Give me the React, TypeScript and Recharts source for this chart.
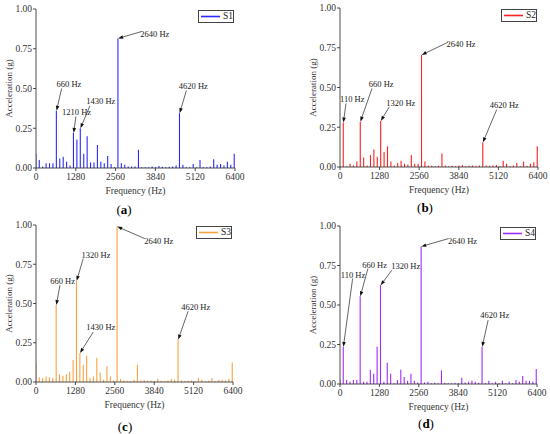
import React from "react";
import {
  BarChart,
  Bar,
  XAxis,
  YAxis,
  Legend,
  ReferenceLine,
  ReferenceDot,
} from "recharts";

// harmonic lines every 110 Hz
const FREQS = [
  0, 110, 220, 330, 440, 550, 660, 770, 880, 990, 1100, 1210, 1320, 1430, 1540,
  1650, 1760, 1870, 1980, 2090, 2200, 2310, 2420, 2530, 2640, 2750, 2860, 2970,
  3080, 3190, 3300, 3410, 3520, 3630, 3740, 3850, 3960, 4070, 4180, 4290, 4400,
  4510, 4620, 4730, 4840, 4950, 5060, 5170, 5280, 5390, 5500, 5610, 5720, 5830,
  5940, 6050, 6160, 6270, 6380,
];

const S1 = [
  0.09, 0.05, 0.01, 0.03, 0.03, 0.03, 0.36, 0.06, 0.07, 0.04,
  0.015, 0.22, 0.18, 0.25, 0.09, 0.2, 0.035, 0.035, 0.145, 0.04,
  0.03, 0.075, 0.025, 0.005, 0.815, 0.03, 0.02, 0.01, 0.01, 0.01,
  0.115, 0.005, 0.005, 0.005, 0.01, 0.005, 0.012, 0.008, 0.005, 0.008,
  0.01, 0.015, 0.345, 0.02, 0.005, 0.005, 0.025, 0.005, 0.05, 0.005,
  0.005, 0.01, 0.055, 0.02, 0.025, 0.015, 0.04, 0.02, 0.09,
];

const S2 = [
  0.005, 0.28, 0.005, 0.02, 0.01, 0.035, 0.285, 0.06, 0.01, 0.075,
  0.11, 0.065, 0.29, 0.095, 0.13, 0.035, 0.01, 0.025, 0.04, 0.02,
  0.015, 0.075, 0.02, 0.02, 0.705, 0.035, 0.01, 0.008, 0.005, 0.008,
  0.085, 0.01, 0.005, 0.008, 0.005, 0.01, 0.012, 0.005, 0.008, 0.01,
  0.005, 0.01, 0.155, 0.01, 0.008, 0.01, 0.012, 0.005, 0.04, 0.02,
  0.005, 0.01, 0.025, 0.005, 0.035, 0.008, 0.02, 0.03, 0.13,
];

const S3 = [
  0.12, 0.03, 0.025, 0.035, 0.03, 0.025, 0.49, 0.05, 0.04, 0.05,
  0.065, 0.14, 0.645, 0.185, 0.11, 0.165, 0.025, 0.035, 0.155, 0.06,
  0.015, 0.1, 0.035, 0.01, 0.99, 0.02, 0.01, 0.008, 0.005, 0.015,
  0.11, 0.01, 0.012, 0.008, 0.01, 0.005, 0.02, 0.008, 0.005, 0.01,
  0.02, 0.015, 0.27, 0.01, 0.005, 0.008, 0.01, 0.005, 0.025, 0.015,
  0.005, 0.008, 0.025, 0.005, 0.012, 0.015, 0.01, 0.02, 0.125,
];

const S4 = [
  0.03, 0.235, 0.025, 0.015, 0.025, 0.025, 0.555, 0.015, 0.015, 0.09,
  0.065, 0.235, 0.625, 0.015, 0.135, 0.065, 0.005, 0.025, 0.09, 0.045,
  0.02, 0.065, 0.02, 0.01, 0.87, 0.01, 0.015, 0.005, 0.008, 0.005,
  0.085, 0.008, 0.005, 0.005, 0.008, 0.005, 0.04, 0.01, 0.015, 0.02,
  0.015, 0.008, 0.235, 0.005, 0.02, 0.005, 0.015, 0.005, 0.02, 0.005,
  0.015, 0.005, 0.025, 0.015, 0.05, 0.02, 0.02, 0.015, 0.095,
];

const X_TICKS = [0, 1280, 2560, 3840, 5120, 6400];
const X_MINOR = [0, 640, 1280, 1920, 2560, 3200, 3840, 4480, 5120, 5760, 6400];
const Y_TICKS = [0, 0.25, 0.5, 0.75, 1];
const Y_MINOR = [0, 0.125, 0.25, 0.375, 0.5, 0.625, 0.75, 0.875, 1];

// labelled peaks: frequency, where the text sits, where the arrow starts
const PEAKS_A = [660, 1210, 1430, 2640, 4620];
const PEAKS_B = [110, 660, 1320, 2640, 4620];
const PEAKS_C = [660, 1320, 1430, 2640, 4620];
const PEAKS_D = [110, 660, 1320, 2640, 4620];

const TEXT_AT_A = [[1060, 0.53], [1305, 0.35], [2087, 0.42], [3820, 0.84], [5060, 0.517]];
const FROM_A = [[824, 0.5], [1284, 0.324], [1733, 0.39], [3392, 0.858], [4836, 0.487]];
const TEXT_AT_B = [[398, 0.426], [1334, 0.519], [1968, 0.405], [3915, 0.771], [5313, 0.389]];
const FROM_B = [[194, 0.4], [1033, 0.494], [1592, 0.378], [3485, 0.784], [5066, 0.361]];
const TEXT_AT_C = [[865, 0.643], [1946, 0.811], [2108, 0.35], [3989, 0.896], [5189, 0.478]];
const FROM_C = [[778, 0.616], [1535, 0.786], [1859, 0.318], [3535, 0.913], [4940, 0.45]];
const TEXT_AT_D = [[421, 0.693], [1122, 0.756], [2136, 0.747], [3981, 0.903], [5028, 0.436]];
const FROM_D = [[410, 0.667], [906, 0.73], [1683, 0.72], [3517, 0.92], [4812, 0.404]];

const FONT = "'Liberation Serif', 'Times New Roman', serif";
const AXIS = "#222";

const CSS = `
.spec text, .spec span, .spec div { font-family: ${FONT} !important; }
`;

function ArrowShape(props: any) {
  const { x1, y1, x2, y2 } = props;
  if (![x1, y1, x2, y2].every((n) => typeof n === "number")) return null;
  const dx = x2 - x1;
  const dy = y2 - y1;
  const len = Math.sqrt(dx * dx + dy * dy) || 1;
  const ux = dx / len;
  const uy = dy / len;
  const hl = 5;
  const hw = 1.8;
  const bx = x2 - ux * hl;
  const by = y2 - uy * hl;
  return (
    <g>
      <line x1={x1} y1={y1} x2={bx} y2={by} stroke="#222" strokeWidth={0.7} />
      <polygon
        points={`${x2},${y2} ${bx - uy * hw},${by + ux * hw} ${bx + uy * hw},${by - ux * hw}`}
        fill="#111"
      />
    </g>
  );
}

function YTitle({ viewBox }: any) {
  const cy = viewBox.y + viewBox.height / 2;
  return (
    <text
      x={8.5}
      y={cy}
      transform={`rotate(-90 8.5 ${cy})`}
      textAnchor="middle"
      dominantBaseline="central"
      style={{ fontSize: 9, fill: "#333" }}
    >
      Acceleration (g)
    </text>
  );
}

function XTitle({ viewBox }: any) {
  return (
    <text
      x={viewBox.x + viewBox.width / 2}
      y={viewBox.y + 23}
      textAnchor="middle"
      dominantBaseline="central"
      style={{ fontSize: 9.5, fill: "#333" }}
    >
      Frequency (Hz)
    </text>
  );
}

function Panel({
  name,
  values,
  color,
  peaks,
  textAt,
  from,
  px,
  py,
  pw,
  ph,
  tag,
  tagX,
  tagY,
}: any) {
  const data = FREQS.map((f, i) => ({ f, v: values[i] }));
  const width = 36 + pw + 15;
  const height = 9 + ph + 30 + 2;

  const legendContent = () => (
    <div
      style={{
        width: 36,
        height: 13,
        border: "0.8px solid #444",
        background: "#fff",
        display: "flex",
        alignItems: "center",
        boxSizing: "border-box",
        fontSize: 9.5,
      }}
    >
      <svg width={22} height={11}>
        <line x1={2} y1={5.5} x2={21} y2={5.5} stroke={color} strokeWidth={1.6} />
      </svg>
      <span style={{ marginLeft: 3, color: "#222" }}>{name}</span>
    </div>
  );

  return (
    <>
      <div className="spec" style={{ position: "absolute", left: px - 36, top: py - 9 }}>
        <BarChart
          width={width}
          height={height}
          data={data}
          margin={{ top: 9, right: 15, left: 0, bottom: 2 }}
          barGap={0}
        >
          <XAxis
            dataKey="f"
            type="number"
            domain={[0, 6400]}
            ticks={X_TICKS}
            allowDataOverflow
            height={30}
            tickSize={3}
            tickMargin={2}
            interval={0}
            axisLine={{ stroke: AXIS, strokeWidth: 0.8 }}
            tickLine={{ stroke: AXIS, strokeWidth: 0.8 }}
            tick={{ fontSize: 9.5, fill: "#333" }}
            label={{ content: XTitle }}
          />
          <XAxis
            xAxisId="top"
            orientation="top"
            type="number"
            domain={[0, 6400]}
            ticks={X_MINOR}
            allowDataOverflow
            height={0}
            mirror
            tick={false}
            tickSize={2.5}
            interval={0}
            axisLine={{ stroke: AXIS, strokeWidth: 0.8 }}
            tickLine={{ stroke: AXIS, strokeWidth: 0.8 }}
          />
          <YAxis
            type="number"
            domain={[0, 1]}
            ticks={Y_TICKS}
            allowDataOverflow
            width={36}
            tickSize={3}
            tickMargin={1}
            interval={0}
            tickFormatter={(v: number) => v.toFixed(2)}
            axisLine={{ stroke: AXIS, strokeWidth: 0.8 }}
            tickLine={{ stroke: AXIS, strokeWidth: 0.8 }}
            tick={{ fontSize: 9.5, fill: "#333" }}
            label={{ content: YTitle }}
          />
          <YAxis
            yAxisId="right"
            orientation="right"
            type="number"
            domain={[0, 1]}
            ticks={Y_MINOR}
            allowDataOverflow
            width={0}
            mirror
            tick={false}
            tickSize={2.5}
            interval={0}
            axisLine={{ stroke: AXIS, strokeWidth: 0.8 }}
            tickLine={{ stroke: AXIS, strokeWidth: 0.8 }}
          />
          <Legend
            layout="vertical"
            align="center"
            verticalAlign="middle"
            content={legendContent}
            wrapperStyle={{ left: 36 + pw - 37, top: 9.5, width: 36, height: 13 }}
          />
          <Bar
            dataKey="v"
            name={name}
            fill={color}
            barSize={1.1}
            isAnimationActive={false}
          />
          {peaks.map((f: number, i: number) => (
            <ReferenceLine
              key={"a" + f}
              segment={[
                { x: from[i][0], y: from[i][1] },
                { x: f, y: values[FREQS.indexOf(f)] },
              ]}
              shape={ArrowShape}
            />
          ))}
          {peaks.map((f: number, i: number) => (
            <ReferenceDot
              key={"t" + f}
              x={textAt[i][0]}
              y={textAt[i][1]}
              r={0}
              fill="none"
              stroke="none"
              label={{
                value: `${f} Hz`,
                position: "center",
                fontSize: 8.5,
                fill: "#222",
              }}
            />
          ))}
        </BarChart>
      </div>
      <div
        className="spec"
        style={{
          position: "absolute",
          left: tagX - 20,
          top: tagY - 9,
          width: 40,
          height: 18,
          lineHeight: "18px",
          textAlign: "center",
          fontSize: 13,
          color: "#000",
        }}
      >
        (<b>{tag}</b>)
      </div>
    </>
  );
}

export default function App() {
  return (
    <div
      style={{
        position: "absolute",
        left: 0,
        top: 0,
        width: 550,
        height: 434,
        background: "#fff",
        overflow: "hidden",
      }}
    >
      <style>{CSS}</style>
      <Panel
        name="S1"
        values={S1}
        color="#2a2aff"
        peaks={PEAKS_A}
        textAt={TEXT_AT_A}
        from={FROM_A}
        px={36}
        py={9}
        pw={199}
        ph={159}
        tag="a"
        tagX={124}
        tagY={210}
      />
      <Panel
        name="S2"
        values={S2}
        color="#ff2020"
        peaks={PEAKS_B}
        textAt={TEXT_AT_B}
        from={FROM_B}
        px={340}
        py={8}
        pw={198}
        ph={159}
        tag="b"
        tagX={425}
        tagY={208}
      />
      <Panel
        name="S3"
        values={S3}
        color="#ffa040"
        peaks={PEAKS_C}
        textAt={TEXT_AT_C}
        from={FROM_C}
        px={36}
        py={225}
        pw={197}
        ph={157}
        tag="c"
        tagX={125}
        tagY={427}
      />
      <Panel
        name="S4"
        values={S4}
        color="#a02cff"
        peaks={PEAKS_D}
        textAt={TEXT_AT_D}
        from={FROM_D}
        px={340}
        py={226}
        pw={197}
        ph={158}
        tag="d"
        tagX={426}
        tagY={424}
      />
    </div>
  );
}
